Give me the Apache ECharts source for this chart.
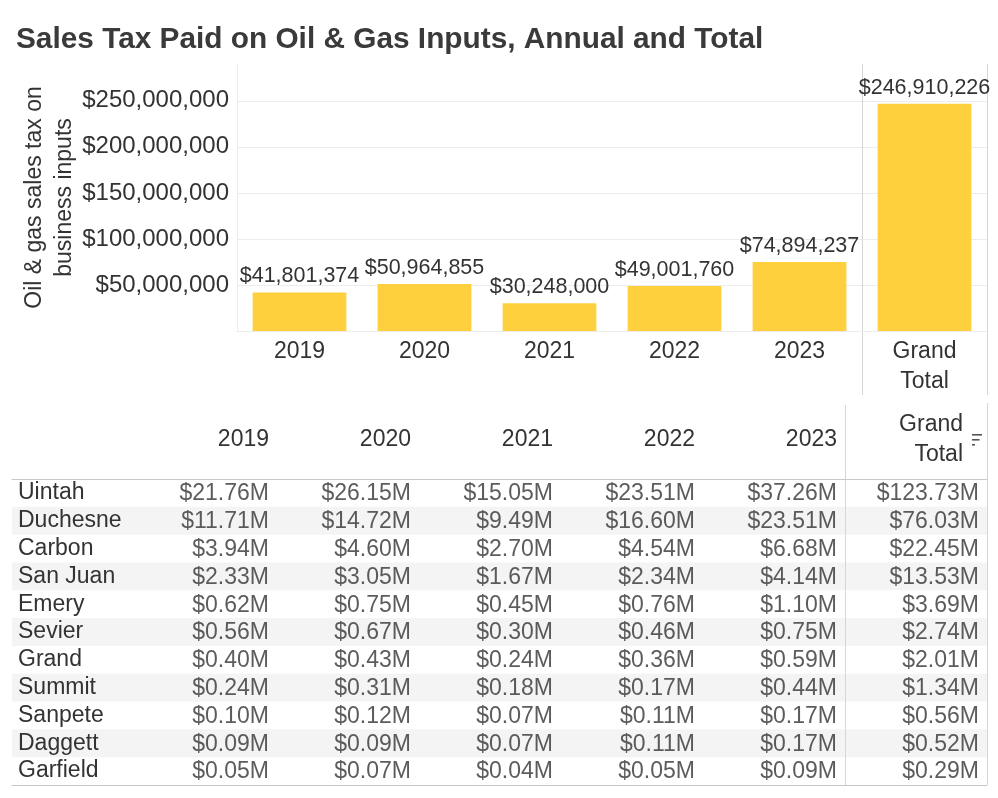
<!DOCTYPE html>
<html><head><meta charset="utf-8">
<script src="https://cdn.jsdelivr.net/npm/echarts@6/dist/echarts.min.js"></script>
<style>html,body{margin:0;padding:0;background:#fff}#c{width:998px;height:798px}</style>
</head><body><div id="c"></div>
<script>
const titleText = 'Sales Tax Paid on Oil & Gas Inputs, Annual and Total';
const yAxisTitle = 'Oil & gas sales tax on\nbusiness inputs';
const barCategories = ['2019', '2020', '2021', '2022', '2023', 'Grand\nTotal'];
const barValues = [41801374, 50964855, 30248000, 49001760, 74894237, 246910226];
const tableColumns = ['2019', '2020', '2021', '2022', '2023', 'Grand Total'];
const counties = ['Uintah', 'Duchesne', 'Carbon', 'San Juan', 'Emery', 'Sevier', 'Grand', 'Summit', 'Sanpete', 'Daggett', 'Garfield'];
const v2019 = [21.76, 11.71, 3.94, 2.33, 0.62, 0.56, 0.40, 0.24, 0.10, 0.09, 0.05];
const v2020 = [26.15, 14.72, 4.60, 3.05, 0.75, 0.67, 0.43, 0.31, 0.12, 0.09, 0.07];
const v2021 = [15.05, 9.49, 2.70, 1.67, 0.45, 0.30, 0.24, 0.18, 0.07, 0.07, 0.04];
const v2022 = [23.51, 16.60, 4.54, 2.34, 0.76, 0.46, 0.36, 0.17, 0.11, 0.11, 0.05];
const v2023 = [37.26, 23.51, 6.68, 4.14, 1.10, 0.75, 0.59, 0.44, 0.17, 0.17, 0.09];
const vTotal = [123.73, 76.03, 22.45, 13.53, 3.69, 2.74, 2.01, 1.34, 0.56, 0.52, 0.29];

const tableValues = [v2019, v2020, v2021, v2022, v2023, vTotal];
const cellData = [];
tableValues.forEach((col, ci) => col.forEach((v, ri) => cellData.push([ci, ri, v])));

const TXT = '#333333';
const LINE = '#d6d6d6';
const FONT = '"Liberation Sans", Arial, sans-serif';
const Y_MAX = 290000000;

const chart = echarts.init(document.getElementById('c'));
chart.setOption({
  animation: false,
  textStyle: { fontFamily: FONT, color: TXT },
  title: {
    text: titleText, left: 11, top: 20,
    textStyle: { fontSize: 29.8, fontWeight: 'bold', color: '#3a3a3a', fontFamily: FONT }
  },
  grid: [
    { left: 237, right: 11, top: 64, height: 267 },
    { left: 12, top: 479, width: 123, height: 306 },
    { left: 135, right: 11, top: 479, height: 306 }
  ],
  xAxis: [
    {
      gridIndex: 0, type: 'category', data: barCategories,
      axisLine: { lineStyle: { color: '#ececec' } },
      axisTick: { show: false },
      axisLabel: { fontSize: 23, color: TXT, margin: 6, lineHeight: 30, interval: 0 }
    },
    {
      gridIndex: 1, type: 'category', data: [''], position: 'top',
      axisLine: { lineStyle: { color: '#c8c8c8' } }, axisTick: { show: false }, axisLabel: { show: false }
    },
    {
      gridIndex: 2, type: 'category', data: tableColumns, position: 'top',
      axisLine: { lineStyle: { color: '#c8c8c8' } },
      axisTick: { show: false },
      axisLabel: {
        interval: 0, margin: 39, verticalAlign: 'middle', lineHeight: 30,
        formatter: v => v === 'Grand Total' ? '{g|Grand}\n{g|Total}' : '{y|' + v + '}',
        rich: {
          y: { width: 126, align: 'right', fontSize: 23, color: TXT, fontFamily: FONT, lineHeight: 30 },
          g: { width: 110, align: 'right', padding: [0, 16, 0, 0], fontSize: 23, color: TXT, fontFamily: FONT, lineHeight: 30 }
        }
      }
    },
    {
      gridIndex: 1, type: 'category', data: [''], position: 'bottom',
      axisLine: { lineStyle: { color: '#c8c8c8' } }, axisTick: { show: false }, axisLabel: { show: false }
    },
    {
      gridIndex: 2, type: 'category', data: tableColumns, position: 'bottom',
      axisLine: { lineStyle: { color: '#c8c8c8' } }, axisTick: { show: false }, axisLabel: { show: false }
    }
  ],
  yAxis: [
    {
      gridIndex: 0, type: 'value', min: 0, max: Y_MAX, interval: 50000000,
      name: yAxisTitle, nameLocation: 'middle', nameGap: 187, nameRotate: 90,
      nameMoveOverlap: false,
      nameTextStyle: { fontSize: 23, color: TXT, lineHeight: 30, verticalAlign: 'middle', align: 'center' },
      axisLine: { show: true, lineStyle: { color: '#ececec' } },
      axisTick: { show: false },
      splitLine: { show: true, showMaxLine: false, lineStyle: { color: '#ececec' } },
      axisLabel: {
        fontSize: 24, color: TXT, margin: 8, showMaxLabel: false,
        formatter: v => v === 0 ? '' : '$' + v.toLocaleString('en-US')
      }
    },
    {
      gridIndex: 1, type: 'category', data: counties, inverse: true,
      axisLine: { show: false }, axisTick: { show: false },
      axisLabel: { interval: 0, inside: true, align: 'left', margin: 6, fontSize: 23, color: TXT },
      splitArea: { show: true, interval: 0, areaStyle: { color: ['rgba(255,255,255,0)', '#f4f4f4'] } }
    },
    {
      gridIndex: 2, type: 'category', data: counties, inverse: true,
      axisLine: { show: false }, axisTick: { show: false }, axisLabel: { show: false, interval: 0 },
      splitArea: { show: true, interval: 0, areaStyle: { color: ['rgba(255,255,255,0)', '#f4f4f4'] } }
    }
  ],
  series: [
    {
      type: 'bar', xAxisIndex: 0, yAxisIndex: 0, data: barValues,
      barCategoryGap: '25%',
      itemStyle: { color: '#FFD03E' },
      label: {
        show: true, position: 'top', distance: 5, fontSize: 21.5, color: TXT,
        formatter: p => '$' + p.value.toLocaleString('en-US')
      }
    },
    {
      type: 'scatter', xAxisIndex: 2, yAxisIndex: 2, data: cellData,
      symbolSize: 1, itemStyle: { color: 'rgba(0,0,0,0)' },
      label: {
        show: true, position: 'inside', align: 'right', offset: [63, 1],
        fontSize: 23, color: TXT,
        formatter: p => '$' + p.value[2].toFixed(2) + 'M'
      }
    }
  ]
});

// separator lines between annual columns and the Grand Total column, located through the axes
const bx4 = chart.convertToPixel({ xAxisIndex: 0 }, 4);
const bx5 = chart.convertToPixel({ xAxisIndex: 0 }, 5);
const bTop = chart.convertToPixel({ yAxisIndex: 0 }, Y_MAX);
const bBase = chart.convertToPixel({ yAxisIndex: 0 }, 0);
const tx4 = chart.convertToPixel({ xAxisIndex: 2 }, 4);
const tx5 = chart.convertToPixel({ xAxisIndex: 2 }, 5);
const r0 = chart.convertToPixel({ yAxisIndex: 2 }, 0);
const r1 = chart.convertToPixel({ yAxisIndex: 2 }, 1);
const rLast = chart.convertToPixel({ yAxisIndex: 2 }, counties.length - 1);
const half = (r1 - r0) / 2;
const tTop = r0 - half, tBot = rLast + half;
const vline = (x, y1, y2) => ({
  type: 'line', silent: true,
  shape: { x1: Math.round(x) + 0.5, y1: y1, x2: Math.round(x) + 0.5, y2: y2 },
  style: { stroke: LINE, lineWidth: 1 }
});
const sortBar = (dy, w) => ({
  type: 'rect', silent: true,
  shape: { x: Math.round(tx5) + 56, y: Math.round(tTop) + dy, width: w, height: 1.6 },
  style: { fill: '#555555' }
});
chart.setOption({
  graphic: [
    vline((bx4 + bx5) / 2, bTop, bBase + 64),
    vline(bx5 + (bx5 - bx4) / 2, bTop, bBase + 64),
    vline((tx4 + tx5) / 2, tTop - 74, tBot),
    vline(tx5 + (tx5 - tx4) / 2, tTop - 76, tBot),
    sortBar(-45, 10),
    sortBar(-40, 7.5),
    sortBar(-35, 3)
  ]
});
</script></body></html>
